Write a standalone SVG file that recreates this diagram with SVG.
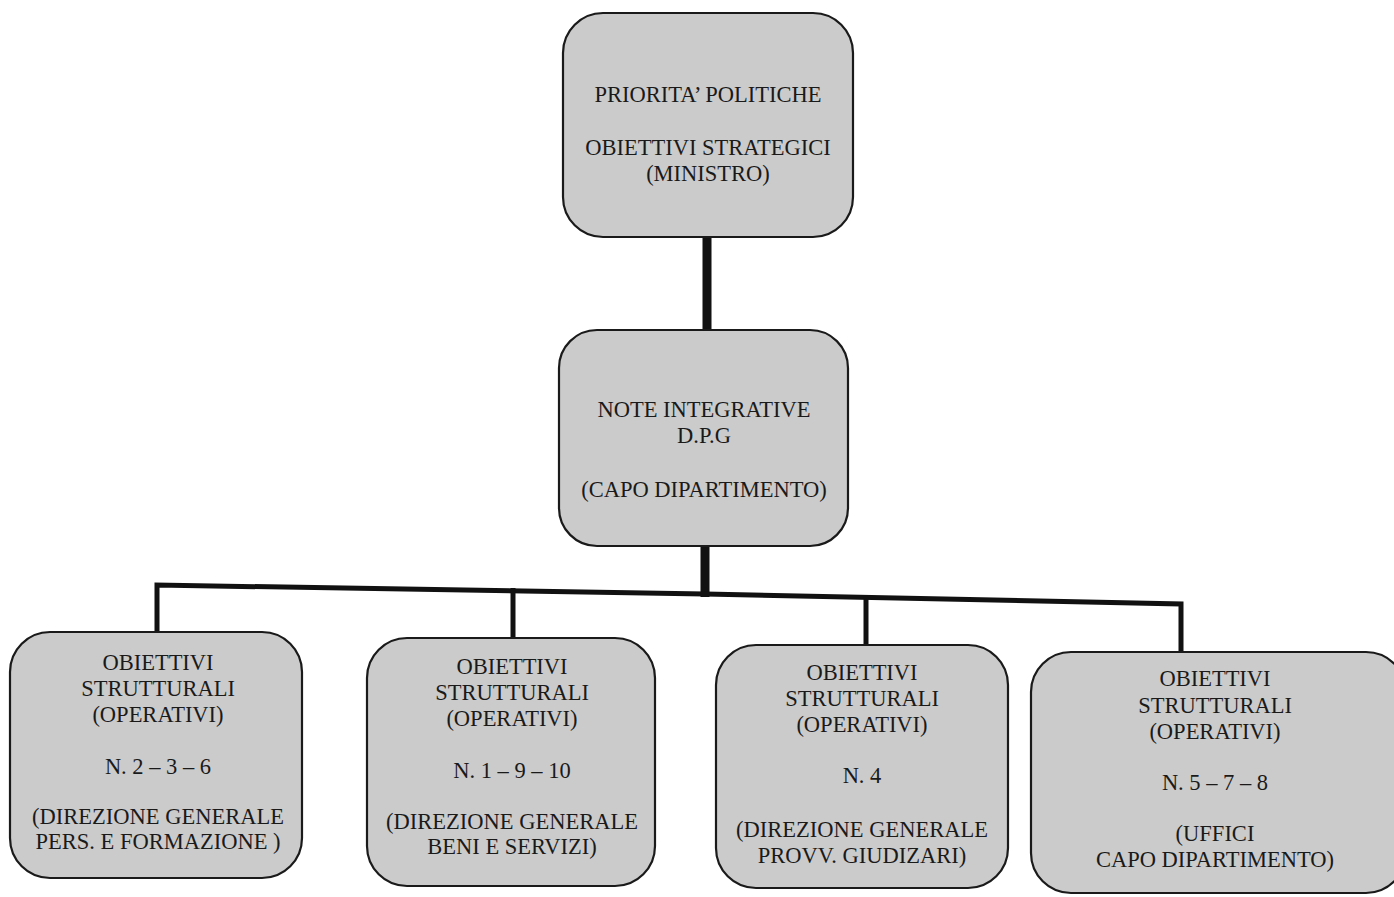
<svg xmlns="http://www.w3.org/2000/svg" width="1394" height="897" viewBox="0 0 1394 897">
<style>
.box{fill:#cbcbcb;stroke:#1a1a1a;stroke-width:2.2}
text{font-family:"Liberation Serif","Times New Roman",serif;font-size:22.5px;fill:#1a1a1a;text-anchor:middle}
.c{stroke:#111;fill:none;stroke-linecap:butt}
</style>
<rect width="1394" height="897" fill="#ffffff"/>
<g id="connectors">
<line class="c" x1="707" y1="236" x2="707" y2="331" stroke-width="9"/>
<line class="c" x1="705" y1="545" x2="705" y2="597" stroke-width="9"/>
<polyline class="c" points="157,633 157,585 705,594 1181,604 1181,653" stroke-width="5"/>
<line class="c" x1="513" y1="588" x2="513" y2="639" stroke-width="5"/>
<line class="c" x1="866" y1="597" x2="866" y2="646" stroke-width="5"/>
</g>
<g id="n-top">
<rect class="box" x="563" y="13" width="290" height="224" rx="40"/>
<text x="708" y="102">PRIORITA’ POLITICHE</text>
<text x="708" y="155">OBIETTIVI STRATEGICI</text>
<text x="708" y="181">(MINISTRO)</text>
</g>
<g id="n-mid">
<rect class="box" x="559" y="330" width="289" height="216" rx="38"/>
<text x="704" y="417">NOTE INTEGRATIVE</text>
<text x="704" y="443">D.P.G</text>
<text x="704" y="497">(CAPO DIPARTIMENTO)</text>
</g>
<g id="n-b1">
<rect class="box" x="10" y="632" width="292" height="246" rx="40"/>
<text x="158" y="670">OBIETTIVI</text>
<text x="158" y="696">STRUTTURALI</text>
<text x="158" y="722">(OPERATIVI)</text>
<text x="158" y="774">N. 2 – 3 – 6</text>
<text x="158" y="824">(DIREZIONE GENERALE</text>
<text x="158" y="849">PERS. E FORMAZIONE )</text>
</g>
<g id="n-b2">
<rect class="box" x="367" y="638" width="288" height="248" rx="40"/>
<text x="512" y="674">OBIETTIVI</text>
<text x="512" y="700">STRUTTURALI</text>
<text x="512" y="726">(OPERATIVI)</text>
<text x="512" y="778">N. 1 – 9 – 10</text>
<text x="512" y="829">(DIREZIONE GENERALE</text>
<text x="512" y="854">BENI E SERVIZI)</text>
</g>
<g id="n-b3">
<rect class="box" x="716" y="645" width="292" height="243" rx="40"/>
<text x="862" y="680">OBIETTIVI</text>
<text x="862" y="706">STRUTTURALI</text>
<text x="862" y="732">(OPERATIVI)</text>
<text x="862" y="783">N. 4</text>
<text x="862" y="837">(DIREZIONE GENERALE</text>
<text x="862" y="863">PROVV. GIUDIZARI)</text>
</g>
<g id="n-b4">
<rect class="box" x="1031" y="652" width="375" height="241" rx="40"/>
<text x="1215" y="686">OBIETTIVI</text>
<text x="1215" y="713">STRUTTURALI</text>
<text x="1215" y="739">(OPERATIVI)</text>
<text x="1215" y="790">N. 5 – 7 – 8</text>
<text x="1215" y="841">(UFFICI</text>
<text x="1215" y="867">CAPO DIPARTIMENTO)</text>
</g>
</svg>
